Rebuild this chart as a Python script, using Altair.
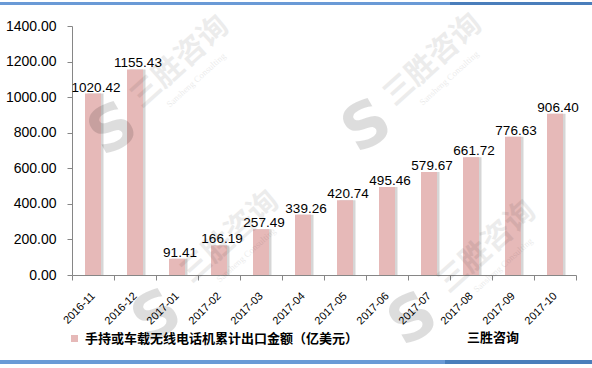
import altair as alt
import pandas as pd

months = ["2016-11", "2016-12", "2017-01", "2017-02", "2017-03", "2017-04",
          "2017-05", "2017-06", "2017-07", "2017-08", "2017-09", "2017-10"]
values = [1020.42, 1155.43, 91.41, 166.19, 257.49, 339.26,
          420.74, 495.46, 579.67, 661.72, 776.63, 906.40]
series_name = "手持或车载无线电话机累计出口金额（亿美元）"
source_text = "三胜咨询"
watermark_cn = "三胜咨询"
watermark_en = "Sansheng Consulting"
y_ticks = [0, 200, 400, 600, 800, 1000, 1200, 1400]

df = pd.DataFrame({"month": months, "value": values, "series": [series_name] * len(months)})

PINK = "#E6B9B8"
AXIS = "#868686"
NUM_FONT = "Liberation Sans"
CJK_FONT = "Noto Sans CJK SC"

x_enc = alt.X("month:N", sort=months, title=None,
              scale=alt.Scale(paddingInner=0, paddingOuter=0),
              axis=alt.Axis(labelAngle=-45, labelAlign="right", labelBaseline="middle",
                            labelPadding=14, tickBand="extent", tickSize=5,
                            domainColor=AXIS, tickColor=AXIS, labelFont=NUM_FONT,
                            labelFontSize=11, labelColor="#000"))
y_enc = alt.Y("value:Q", title=None,
              scale=alt.Scale(domain=[0, 1400], nice=False),
              axis=alt.Axis(values=y_ticks, format=".2f", grid=False, tickSize=5,
                            labelPadding=11, labelFont=NUM_FONT, labelFontSize=14,
                            labelColor="#000", domainColor=AXIS, tickColor=AXIS))

base = alt.Chart(df)

shadow = base.mark_bar(size=16, color="#d6d6d6", xOffset=2.5).encode(x=x_enc, y=y_enc)

bars = base.mark_bar(size=16).encode(
    x=x_enc, y=y_enc,
    color=alt.Color("series:N", scale=alt.Scale(range=[PINK]),
                    legend=alt.Legend(title=None, orient="none", legendX=-4, legendY=306,
                                      symbolType="square", symbolSize=49,
                                      symbolStrokeWidth=0, labelFont=CJK_FONT,
                                      labelFontSize=13, labelFontWeight="bold",
                                      labelColor="#000", padding=0, labelOffset=4,
                                      labelLimit=0))
)

labels = base.mark_text(baseline="alphabetic", dy=-2, dx=3, font=NUM_FONT,
                        fontSize=13.5, color="#000").encode(
    x=x_enc, y=y_enc, text=alt.Text("value:Q", format=".2f"))


def wm(cx, cy, lx, ly):
    t = alt.Chart(pd.DataFrame({"t": [watermark_cn]})).mark_text(
        font=CJK_FONT, fontSize=30, fontWeight="bold", angle=318, color="#000",
        opacity=0.07, align="center", baseline="middle").encode(
        text="t:N", x=alt.value(cx), y=alt.value(cy))
    e = alt.Chart(pd.DataFrame({"t": [watermark_en]})).mark_text(
        font="Liberation Serif", fontSize=9, angle=318, color="#000",
        opacity=0.08, align="center", baseline="middle").encode(
        text="t:N", x=alt.value(cx + 16), y=alt.value(cy + 18))
    s = alt.Chart(pd.DataFrame({"t": ["S"]})).mark_text(
        font="DejaVu Sans", fontSize=62, fontWeight="bold", angle=330, color="#000",
        opacity=0.13, align="center", baseline="middle").encode(
        text="t:N", x=alt.value(lx), y=alt.value(ly))
    return [t, e, s]


marks = []
for pos in [(108, 36, 41, 104), (361, 34, 295, 101), (158, 211, 85, 291), (415, 221, 341, 294)]:
    marks += wm(*pos)

source = alt.Chart(pd.DataFrame({"t": [source_text]})).mark_text(
    font=CJK_FONT, fontSize=13, fontWeight="bold", color="#000",
    align="left", baseline="middle").encode(
    text="t:N", x=alt.value(395), y=alt.value(312))

border_top_a = alt.Chart(pd.DataFrame({"a": [0]})).mark_rule(
    color="#6A9AD6", strokeWidth=3).encode(x=alt.value(-72), x2=alt.value(378), y=alt.value(-22.5))
border_top_b = alt.Chart(pd.DataFrame({"a": [0]})).mark_rule(
    color="#4A7EBB", strokeWidth=3).encode(x=alt.value(378), x2=alt.value(520), y=alt.value(-22.5))
border_bot_a = alt.Chart(pd.DataFrame({"a": [0]})).mark_rule(
    color="#6A9AD6", strokeWidth=4).encode(x=alt.value(-72), x2=alt.value(373), y=alt.value(336))
border_bot_b = alt.Chart(pd.DataFrame({"a": [0]})).mark_rule(
    color="#4A7EBB", strokeWidth=4).encode(x=alt.value(373), x2=alt.value(520), y=alt.value(336))

chart = alt.layer(shadow, bars, *marks, labels, source,
                  border_top_a, border_top_b, border_bot_a, border_bot_b).properties(
    width=504, height=249,
    padding={"left": 72, "top": 26, "right": 16, "bottom": 93},
    autosize=alt.AutoSizeParams(type="none"),
    background="#ffffff",
).configure_view(stroke=None)

chart.save("out.html", embed_options={"renderer": "svg", "actions": False})
